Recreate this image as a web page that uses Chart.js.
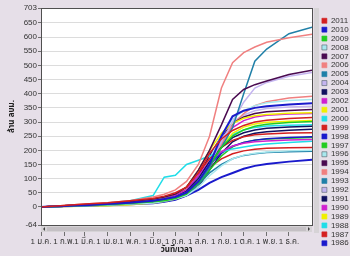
<!DOCTYPE html>
<html>
<head>
<meta charset="utf-8">
<script src="https://cdn.jsdelivr.net/npm/chart.js@4"></script>
<style>
  html, body { margin: 0; padding: 0; background: #e6dfe8; }
  #wrap { width: 350px; height: 256px; }
</style>
</head>
<body>
<div id="wrap"><canvas id="graficoRunoff"></canvas></div>
<script>
// day of year for each sample
const days = [0, 31, 59, 90, 120, 151, 166, 181, 196, 212, 227, 243, 258, 273, 288, 304, 334, 365];

const monthTicks = [0, 31, 59, 90, 120, 151, 181, 212, 243, 273, 304, 334];
const monthLabels = ['1 ม.ค.', '1 ก.พ.', '1 มี.ค.', '1 เม.ย.', '1 พ.ค.', '1 มิ.ย.', '1 ก.ค.', '1 ส.ค.', '1 ก.ย.', '1 ต.ค.', '1 พ.ย.', '1 ธ.ค.'];
const yTicks = [-64, 0, 50, 100, 150, 200, 250, 300, 350, 400, 450, 500, 550, 600, 650, 703];

const years = ['2011', '2010', '2009', '2008', '2007', '2006', '2005', '2004', '2003', '2002', '2001', '2000', '1999',
               '1998', '1997', '1996', '1995', '1994', '1993', '1992', '1991', '1990', '1989', '1988', '1987', '1986'];

const y2011 = [0, 5, 10, 15, 22, 30, 38, 50, 70, 120, 190, 240, 270, 288, 300, 306, 312, 316];
const y2010 = [0, 3, 6, 10, 15, 22, 28, 35, 50, 90, 150, 250, 320, 340, 350, 356, 362, 366];
const y2009 = [0, 2, 5, 8, 12, 18, 22, 30, 45, 85, 150, 210, 250, 272, 285, 292, 298, 302];
const y2008 = [0, 2, 4, 6, 10, 14, 20, 28, 40, 70, 110, 145, 170, 183, 190, 194, 198, 200];
const y2007 = [0, 4, 8, 12, 18, 28, 35, 45, 70, 130, 200, 290, 380, 415, 432, 445, 468, 483];
const y2006 = [0, 5, 10, 15, 22, 35, 45, 60, 90, 150, 250, 420, 510, 545, 565, 582, 598, 610];
const y2005 = [0, 2, 5, 8, 12, 18, 25, 32, 40, 80, 140, 210, 280, 400, 515, 558, 612, 635];
const y2004 = [0, 3, 6, 9, 13, 20, 26, 35, 50, 90, 150, 230, 300, 370, 420, 440, 462, 475];
const y2003 = [0, 3, 6, 9, 14, 20, 26, 35, 55, 100, 160, 210, 245, 262, 272, 278, 282, 285];
const y2002 = [0, 3, 6, 10, 15, 22, 28, 40, 60, 110, 160, 195, 215, 225, 230, 233, 236, 238];
const y2001 = [0, 3, 6, 10, 16, 25, 33, 45, 70, 130, 200, 260, 295, 313, 322, 327, 331, 333];
const y2000 = [0, 4, 8, 14, 22, 40, 105, 112, 150, 165, 180, 195, 205, 212, 218, 222, 228, 232];
const y1999 = [0, 4, 8, 12, 17, 24, 32, 45, 70, 120, 170, 210, 235, 248, 255, 258, 261, 262];
const y1998 = [0, 2, 4, 7, 11, 16, 22, 30, 48, 90, 150, 190, 215, 228, 236, 241, 245, 248];
const y1997 = [0, 3, 6, 9, 13, 19, 25, 32, 45, 80, 130, 180, 212, 228, 236, 240, 243, 245];
const y1996 = [0, 3, 6, 9, 14, 20, 26, 35, 55, 100, 170, 250, 310, 340, 358, 368, 376, 380];
const y1995 = [0, 4, 8, 12, 17, 24, 30, 40, 60, 110, 180, 250, 295, 318, 330, 336, 341, 344];
const y1994 = [0, 4, 8, 12, 18, 26, 34, 45, 60, 95, 150, 220, 290, 330, 358, 372, 385, 391];
const y1993 = [0, 2, 5, 8, 12, 17, 22, 30, 45, 80, 120, 150, 170, 182, 188, 192, 195, 197];
const y1992 = [0, 3, 6, 10, 14, 20, 26, 36, 55, 100, 165, 240, 300, 325, 340, 348, 353, 356];
const y1991 = [0, 2, 4, 7, 10, 15, 20, 28, 40, 70, 130, 190, 230, 250, 260, 266, 271, 274];
const y1990 = [0, 3, 6, 9, 13, 19, 25, 34, 50, 95, 160, 230, 280, 305, 318, 324, 328, 330];
const y1989 = [0, 1, 2, 4, 8, 14, 20, 28, 42, 80, 140, 210, 260, 282, 293, 299, 303, 305];
const y1988 = [0, 3, 6, 9, 14, 20, 26, 34, 52, 95, 160, 220, 255, 272, 281, 286, 289, 290];
const y1987 = [0, 3, 6, 9, 13, 19, 25, 35, 55, 95, 140, 170, 188, 198, 204, 207, 209, 210];
const y1986 = [0, 2, 4, 6, 9, 13, 18, 25, 40, 60, 85, 105, 120, 135, 145, 152, 160, 167];

const series = [y2011, y2010, y2009, y2008, y2007, y2006, y2005, y2004, y2003, y2002, y2001, y2000, y1999,
                y1998, y1997, y1996, y1995, y1994, y1993, y1992, y1991, y1990, y1989, y1988, y1987, y1986];

// colour cycle repeats every 12 years
const palette = ['#d42020', '#1a1acc', '#22cc22', '#a8e8ee', '#4a0a50', '#f08080',
                 '#2080a8', '#c4b4f0', '#101060', '#d020d0', '#f0f000', '#20dde8'];
const paleColors = ['#a8e8ee', '#c4b4f0'];

const FONT = "'Liberation Sans', Arial, 'Noto Sans Thai', sans-serif";

const datasets = years.map((year, i) => {
    const color = palette[i % 12];
    return {
        label: year,
        data: days.map((d, j) => ({ x: d, y: series[i][j] })),
        borderColor: color,
        backgroundColor: color,
        borderWidth: (i === 1 || i === 25) ? 2 : 1.5,
        pointRadius: 0,
        tension: 0
    };
});

const plotFrame = {
    id: 'plotFrame',
    beforeDraw(chart) {
        const { ctx, chartArea: a } = chart;
        ctx.save();
        ctx.fillStyle = '#e6dfe8';
        ctx.fillRect(0, 0, chart.width, chart.height);
        ctx.fillStyle = '#ffffff';
        ctx.fillRect(a.left, a.top, a.right - a.left, a.bottom - a.top);
        ctx.restore();
    },
    afterDraw(chart) {
        const { ctx, chartArea: a } = chart;
        ctx.save();
        // plot border
        ctx.strokeStyle = '#505050';
        ctx.lineWidth = 1;
        ctx.strokeRect(Math.round(a.left) + 0.5, Math.round(a.top) + 0.5,
                       Math.round(a.right - a.left), Math.round(a.bottom - a.top));
        // horizontal scrollbar
        ctx.fillStyle = '#d6d3d6';
        ctx.fillRect(a.left, a.bottom + 1, a.right - a.left, 6);
        ctx.fillStyle = '#c4c0c4';
        ctx.fillRect(a.left + 6, a.bottom + 2, a.right - a.left - 12, 4);
        ctx.fillStyle = '#404040';
        ctx.beginPath();
        ctx.moveTo(a.left + 2, a.bottom + 4); ctx.lineTo(a.left + 4, a.bottom + 2); ctx.lineTo(a.left + 4, a.bottom + 6);
        ctx.fill();
        ctx.beginPath();
        ctx.moveTo(a.right - 2, a.bottom + 4); ctx.lineTo(a.right - 4, a.bottom + 2); ctx.lineTo(a.right - 4, a.bottom + 6);
        ctx.fill();
        // vertical bar next to the legend
        ctx.fillStyle = '#d6d3d6';
        ctx.fillRect(a.right + 2, a.top, 5, a.bottom - a.top + 8);
        ctx.restore();
    }
};

const ctx = document.getElementById('graficoRunoff').getContext('2d');
const graficoRunoff = new Chart(ctx, {
    type: 'line',
    data: { datasets: datasets },
    plugins: [plotFrame],
    options: {
        responsive: true,
        maintainAspectRatio: false,
        animation: false,
        layout: { padding: { top: 8 } },
        plugins: {
            legend: {
                position: 'right',
                maxWidth: 29,
                labels: {
                    boxWidth: 5,
                    boxHeight: 5,
                    padding: 0.9,
                    color: '#333333',
                    font: { family: FONT, size: 8 },
                    generateLabels(chart) {
                        const items = Chart.defaults.plugins.legend.labels.generateLabels(chart);
                        items.forEach(item => {
                            item.lineWidth = 0.6;
                            item.strokeStyle = paleColors.includes(item.fillStyle) ? '#506068' : item.fillStyle;
                        });
                        return items;
                    }
                }
            },
            tooltip: { enabled: false }
        },
        scales: {
            x: {
                type: 'linear',
                min: 0,
                max: 365,
                afterBuildTicks: scale => { scale.ticks = monthTicks.map(v => ({ value: v })); },
                afterFit: scale => { scale.height = 31; },
                ticks: {
                    autoSkip: false,
                    maxRotation: 0,
                    padding: 1,
                    color: '#333333',
                    font: { family: FONT, size: 8 },
                    callback: (value) => monthLabels[monthTicks.indexOf(value)]
                },
                grid: { drawOnChartArea: false, tickLength: 11, color: '#707070' },
                border: { display: false },
                title: {
                    display: true,
                    text: 'วันที่/เวลา',
                    color: '#222222',
                    font: { family: FONT, size: 8, weight: 'bold' },
                    padding: { top: 0, bottom: 1 }
                }
            },
            y: {
                min: -64,
                max: 703,
                afterBuildTicks: scale => { scale.ticks = yTicks.map(v => ({ value: v })); },
                afterFit: scale => { scale.width = 41; },
                ticks: {
                    padding: 1,
                    color: '#333333',
                    font: { family: FONT, size: 8 }
                },
                grid: { color: '#dcdcdc', tickLength: 3, tickColor: '#707070' },
                border: { display: false },
                title: {
                    display: true,
                    text: 'ล้าน ลบม.',
                    color: '#222222',
                    font: { family: FONT, size: 8, weight: 'bold' },
                    padding: { top: 7, bottom: 0 }
                }
            },
            yR: {
                position: 'right',
                display: true,
                ticks: { display: false },
                grid: { display: false, drawTicks: false },
                border: { display: false },
                afterFit: scale => { scale.width = 9; }
            }
        }
    }
});
</script>
</body>
</html>
